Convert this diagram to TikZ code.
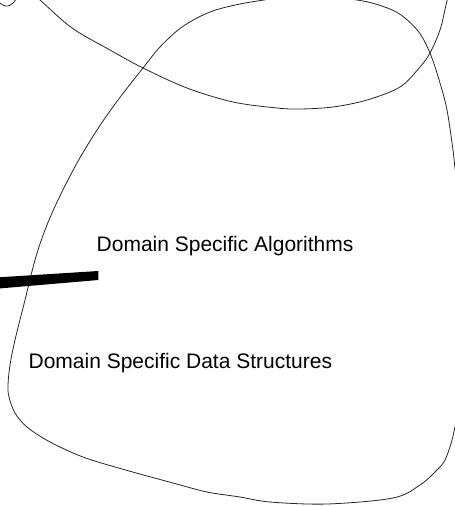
\documentclass[tikz,border=0pt]{standalone}
\usepackage{fontspec}
\setmainfont{Liberation Sans}
\begin{document}
\begin{tikzpicture}[x=1pt,y=-1pt,
  curve/.style={draw=black!85,line width=0.8pt,smooth,tension=0.55},
  label/.style={anchor=base west,inner sep=0pt,font=\fontsize{21}{25}\selectfont}]
\useasboundingbox (0,0) rectangle (455,506);
\clip (0,0) rectangle (455,506);
% large blob
\draw[curve] plot coordinates {(459,195) (455,168) (453,150) (447,110) (440,83) (430,53) (418,31) (398,13) (372,3) (345,-2) (310,-9) (276,-2) (240,4) (210,12) (182,27) (160,47) (143,68) (118,100) (97,130) (77,163) (58,200) (45,230) (35,260) (25,300) (15,340) (10,365) (8,385) (9,397) (15,413) (27,427) (50,442) (83,457) (122,469) (173,483) (207,492) (240,497) (270,502) (327,504) (393,498) (420,485) (437,470) (445,460) (452,440) (458,412)};
% upper U curve
\draw[curve] plot coordinates {(30,-8) (40,0) (72,28) (110,50) (143,68) (187,88) (233,102) (277,108) (300,109) (333,107) (367,100) (400,87) (420,67) (430,53) (440,30) (446,5) (449,-8)};
% small hook top left
\draw[curve] plot coordinates {(-3,1) (3,5) (8,6) (13,3) (17,-2)};
% thick bar
\fill[black] (-1,277.3) -- (98.3,271) -- (98.3,280) -- (-1,288.5) -- cycle;
\node[label] (alg) at (96.5,251) {Domain Specific Algorithms};
\node[label] (ds) at (28.4,368.3) {Domain Specific Data Structures};
\end{tikzpicture}
\end{document}
